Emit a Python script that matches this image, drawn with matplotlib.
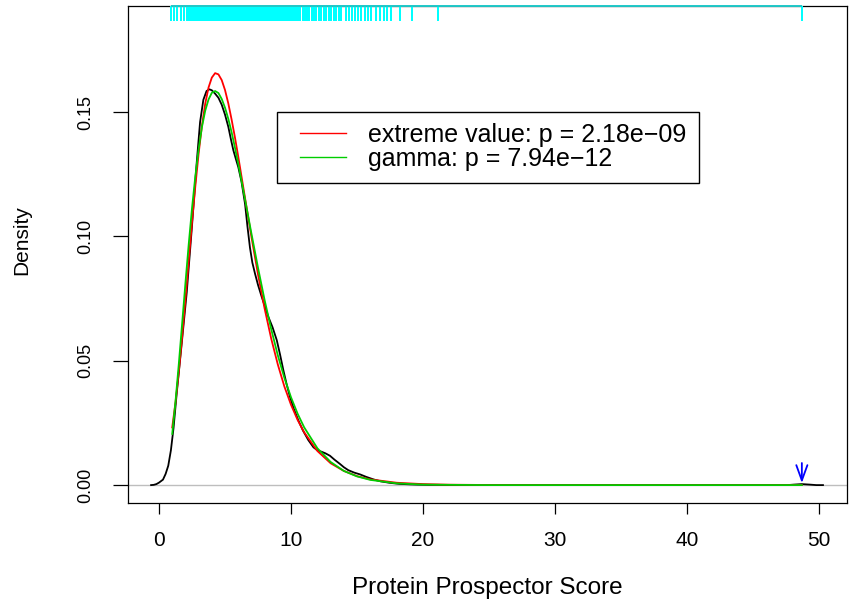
import matplotlib
matplotlib.use("Agg")
import matplotlib.pyplot as plt
from matplotlib.patches import Rectangle

plt.rcParams["font.family"] = ["Liberation Sans", "DejaVu Sans"]

# ── Data ──────────────────────────────────────────────────────────────────────
# kernel density of the scores (black)
dens_x = [-0.6, -0.4, -0.2, 0.0, 0.3, 0.5, 0.7, 0.9, 1.1, 1.34, 1.72, 2.1,
          2.48, 2.86, 3.11, 3.36, 3.6, 3.81, 4.0, 4.24, 4.5, 4.75, 5.0,
          5.25, 5.45, 5.63, 5.82, 6.01, 6.25, 6.52, 6.7, 6.89, 7.07, 7.27,
          7.5, 7.78, 8.0, 8.28, 8.6, 8.92, 9.17, 9.42, 9.67, 9.92, 10.2,
          10.55, 10.9, 11.31, 11.7, 12.0, 12.32, 12.6, 12.95, 13.3, 13.71,
          14.0, 14.34, 14.8, 15.23, 15.7, 16.24, 16.8, 17.5, 18.2, 19.0,
          19.6, 20.5, 21.1, 22.0, 30.0, 40.0, 47.6, 48.1, 48.7, 49.3, 49.8,
          50.3]
dens_y = [0.0, 0.0001, 0.0004, 0.0010, 0.0022, 0.0045, 0.0078, 0.0140,
          0.0230, 0.0369, 0.0570, 0.0775, 0.1030, 0.1300, 0.1460, 0.1550,
          0.1585, 0.1592, 0.1588, 0.1575, 0.1558, 0.1530, 0.1490, 0.1441,
          0.1390, 0.1347, 0.1312, 0.1278, 0.1220, 0.1130, 0.1040, 0.0955,
          0.0895, 0.0851, 0.0805, 0.0757, 0.0722, 0.0677, 0.0635, 0.0583,
          0.0525, 0.0462, 0.0405, 0.0355, 0.0308, 0.0261, 0.0220, 0.0181,
          0.0152, 0.0140, 0.0134, 0.0128, 0.0118, 0.0102, 0.0085, 0.0072,
          0.0060, 0.0050, 0.0043, 0.0033, 0.0023, 0.0015, 0.0009, 0.0005,
          0.0003, 0.0002, 0.0001, 0.0001, 0.0, 0.0, 0.0, 0.0, 0.0002,
          0.0004, 0.0002, 0.0, 0.0]

# fitted extreme value curve (red)
ev_x = [1.0, 1.25, 1.5, 1.75, 2.0, 2.25, 2.5, 2.75, 3.0, 3.25, 3.5, 3.75,
        4.0, 4.25, 4.5, 4.75, 5.0, 5.25, 5.5, 5.75, 6.0, 6.5, 7.0, 7.5,
        8.0, 8.5, 9.0, 9.5, 10.0, 10.5, 11.0, 12.0, 13.0, 14.0, 15.0,
        16.0, 18.0, 20.0, 22.0, 25.0, 30.0, 40.0, 48.7]
ev_y = [0.0232, 0.0333, 0.0456, 0.0595, 0.0746, 0.0902, 0.1057, 0.1202,
        0.1333, 0.1445, 0.1534, 0.1599, 0.1639, 0.1657, 0.1652, 0.1629,
        0.1589, 0.1535, 0.1470, 0.1399, 0.1322, 0.1160, 0.0999, 0.0847,
        0.0710, 0.0589, 0.0485, 0.0396, 0.0323, 0.0262, 0.0212, 0.0137,
        0.0088, 0.0057, 0.0036, 0.0023, 0.00095, 0.00039, 0.00016, 0.00004,
        0.0, 0.0, 0.0]

# fitted gamma curve (green)
gam_x = [1.0, 1.25, 1.5, 1.75, 2.0, 2.25, 2.5, 2.75, 3.0, 3.25, 3.5, 3.75,
         4.0, 4.25, 4.5, 4.75, 5.0, 5.25, 5.5, 5.75, 6.0, 6.5, 7.0, 7.5,
         8.0, 8.5, 9.0, 9.5, 10.0, 10.5, 11.0, 12.0, 13.0, 14.0, 15.0,
         16.0, 18.0, 20.0, 22.0, 25.0, 30.0, 40.0, 48.7]
gam_y = [0.0206, 0.0337, 0.0488, 0.0649, 0.0812, 0.0969, 0.1114, 0.1242,
         0.1351, 0.1440, 0.1506, 0.1551, 0.1578, 0.1585, 0.1577, 0.1553,
         0.1518, 0.1473, 0.1419, 0.1358, 0.1293, 0.1154, 0.1012, 0.0874,
         0.0744, 0.0627, 0.0522, 0.0431, 0.0353, 0.0287, 0.0232, 0.0148,
         0.0093, 0.0057, 0.0035, 0.0021, 0.0007, 0.0002, 0.0001, 0.0,
         0.0, 0.0, 0.0]

# individual scores shown as a rug along the top
rug_scores = [
    0.93, 1.14, 1.34, 1.69, 1.89,
    2.10, 2.17, 2.26, 2.35, 2.43, 2.51, 2.60, 2.68, 2.77, 2.85, 2.94, 3.02,
    3.11, 3.19, 3.28, 3.36, 3.45, 3.53, 3.62, 3.70, 3.79, 3.87, 3.96, 4.04,
    4.13, 4.21, 4.30, 4.38, 4.47, 4.55, 4.64, 4.72, 4.81, 4.89, 4.98, 5.06,
    5.15, 5.23, 5.32, 5.40, 5.49, 5.57, 5.66, 5.74, 5.83, 5.91, 6.00, 6.08,
    6.17, 6.25, 6.34, 6.42, 6.51, 6.59, 6.68, 6.76, 6.85, 6.93, 7.02, 7.10,
    7.19, 7.27, 7.36, 7.44, 7.53, 7.61, 7.70, 7.78, 7.87, 7.95, 8.04, 8.12,
    8.21, 8.29, 8.38, 8.46, 8.55, 8.63, 8.72, 8.80, 8.89, 8.97, 9.06, 9.14,
    9.23, 9.31, 9.40, 9.48, 9.57, 9.65, 9.74, 9.82, 9.91, 9.99, 10.08, 10.16,
    10.25,
    10.40, 10.55, 10.71, 10.88, 11.04, 11.22, 11.39, 11.57, 11.74, 11.93,
    12.10, 12.30, 12.47, 12.66, 12.84, 13.03, 13.24, 13.43, 13.62, 13.81,
    14.19, 14.39, 14.62, 14.82, 15.08, 15.33, 15.63, 15.83, 16.09, 16.46,
    16.77, 17.05, 17.30, 17.60, 18.23, 19.19, 21.14, 48.70,
]

query_score = 48.7
legend_labels = ["extreme value: p = 2.18e\u221209", "gamma: p = 7.94e\u221212"]
x_ticks = [0, 10, 20, 30, 40, 50]
y_ticks = [0.0, 0.05, 0.10, 0.15]
y_tick_labels = ["0.00", "0.05", "0.10", "0.15"]

# ── Figure ────────────────────────────────────────────────────────────────────
W, H = 849, 603
fig = plt.figure(figsize=(W / 100, H / 100), dpi=100)
ax = fig.add_axes([128 / W, 100 / H, 719 / W, 497 / H])

ax.axhline(0, color="#BEBEBE", lw=1.0, zorder=1)
ax.plot(dens_x, dens_y, color="black", lw=1.3, zorder=3)
ax.plot(ev_x, ev_y, color="#FF0000", lw=1.3, zorder=4, label=legend_labels[0])
ax.plot(gam_x, gam_y, color="#00CD00", lw=1.3, zorder=5, label=legend_labels[1])

# rug (ticks hanging from the top frame)
xt = ax.get_xaxis_transform()
ax.vlines(rug_scores, 0.97, 1.0, transform=xt, color="#00FFFF", lw=1.2,
          antialiased=False, zorder=6, clip_on=False)
ax.hlines(1.0, min(rug_scores), max(rug_scores), transform=xt,
          color="#20C8C8", lw=1.4, zorder=7, clip_on=False)

# arrow marking the query score
ax.annotate("", xy=(query_score, -0.0003), xytext=(query_score, 0.0100),
            arrowprops=dict(arrowstyle="->,head_length=0.55,head_width=0.2",
                            color="#0000FF", lw=1.3, mutation_scale=20),
            zorder=8)

ax.set_xlim(-2.35, 52.12)
ax.set_ylim(-0.0072, 0.1927)
ax.set_xticks(x_ticks)
ax.set_yticks(y_ticks)
ax.set_yticklabels(y_tick_labels, rotation=90, va="center")

for sp in ax.spines.values():
    sp.set_color("black")
    sp.set_linewidth(0.9)
    sp.set_zorder(2)

ax.tick_params(axis="x", length=8, width=0.9, pad=12, labelsize=15)
ax.tick_params(axis="y", length=11, width=0.9, pad=13, labelsize=13)

ax.set_xlabel("Protein Prospector Score", fontsize=17.5, va="center")
ax.xaxis.set_label_coords(0.5, (503 - 588) / 497)
ax.set_ylabel("Density", fontsize=15, va="center", ha="center")
ax.yaxis.set_label_coords((22 - 128) / 719, (503 - 240) / 497)

# legend: frameless legend plus a plain rectangle round it
leg = ax.legend(loc="upper left", bbox_to_anchor=(300 / W, 1 - 123 / H),
                bbox_transform=fig.transFigure, frameon=False, fontsize=18,
                borderpad=0, borderaxespad=0, handlelength=1.84,
                handletextpad=0.88, labelspacing=0.0)
for line in leg.get_lines():
    line.set_linewidth(1.0)
fig.patches.append(Rectangle((277 / W, 1 - 183 / H), 422 / W, 71 / H,
                             transform=fig.transFigure, fill=False,
                             edgecolor="black", lw=1.0))

fig.savefig("out.png", dpi=100)
